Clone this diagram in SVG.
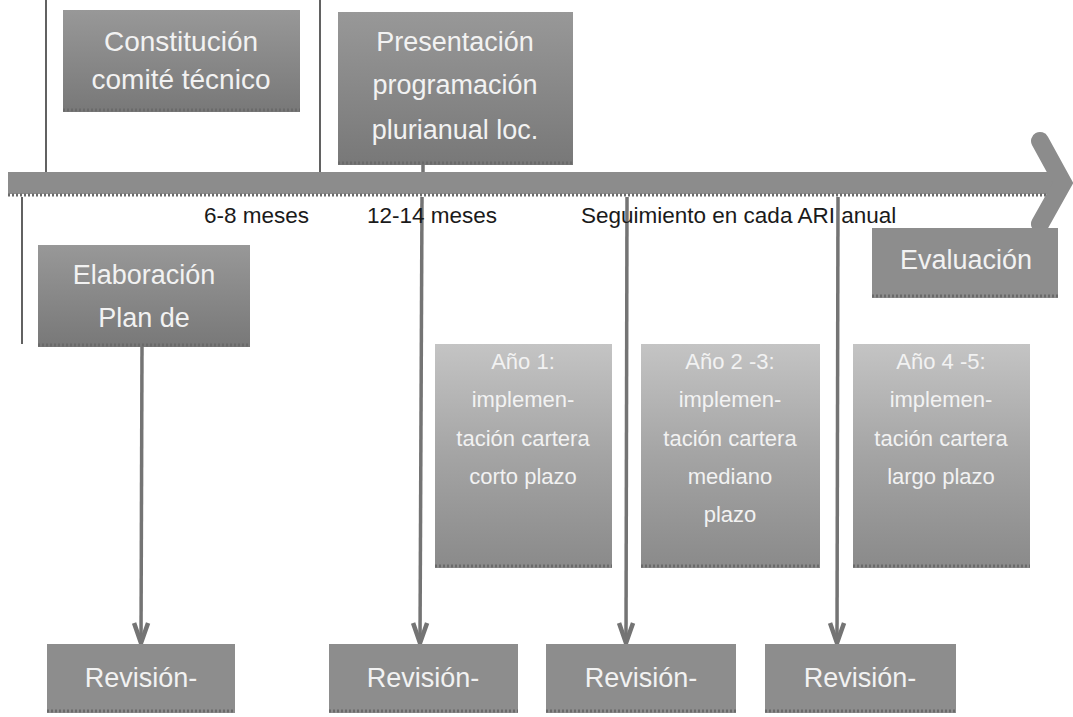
<svg xmlns="http://www.w3.org/2000/svg" width="1073" height="717" viewBox="0 0 1073 717">
<style>
  .t { font-family: "Liberation Sans", Arial, sans-serif; text-anchor: middle; fill: #f2f2f2; }
  .lbl { font-family: "Liberation Sans", Arial, sans-serif; font-size: 22.5px; fill: #1a1a1a; }
  .box { fill: url(#gDark); }
  .boxL { fill: url(#gLight); }
  .boxF { fill: #8d8d8d; }
  .edge { stroke: #6a6a6a; stroke-width: 3; stroke-dasharray: 2 2; fill: none; }
  .thin { stroke: #3a3a3a; stroke-width: 1.6; fill: none; }
  .conn { stroke: #747474; stroke-width: 3.5; fill: none; }
</style>
<defs>
  <linearGradient id="gDark" x1="0" y1="0" x2="0" y2="1">
    <stop offset="0" stop-color="#989898"/>
    <stop offset="1" stop-color="#787878"/>
  </linearGradient>
  <linearGradient id="gLight" x1="0" y1="0" x2="0" y2="1">
    <stop offset="0" stop-color="#c4c4c4"/>
    <stop offset="0.5" stop-color="#a4a4a4"/>
    <stop offset="1" stop-color="#8a8a8a"/>
  </linearGradient>
  <marker id="arr" viewBox="0 0 26 20" refX="23" refY="10" markerWidth="26" markerHeight="20" markerUnits="userSpaceOnUse" orient="auto">
    <path d="M3,3 L23,10 L3,17" fill="none" stroke="#747474" stroke-width="4.5" stroke-linejoin="miter"/>
  </marker>
</defs>

<g id="timeline">
  <rect x="8" y="172" width="1052" height="22" fill="#8c8c8c"/>
  <line x1="8" y1="195" x2="1056" y2="195" class="edge"/>
  <polyline points="1040,141 1063,183 1040,224" fill="none" stroke="#8c8c8c" stroke-width="18" stroke-linecap="round" stroke-linejoin="miter"/>
</g>

<g id="connectors">
  <line x1="46" y1="0" x2="46" y2="172" class="thin"/>
  <line x1="320" y1="0" x2="320" y2="172" class="thin"/>
  <line x1="22" y1="197" x2="22" y2="344" class="thin"/>
  <line x1="423" y1="165" x2="423" y2="172" class="conn"/>
  <line x1="422" y1="197" x2="420" y2="643" class="conn" marker-end="url(#arr)"/>
  <line x1="142" y1="347" x2="141" y2="643" class="conn" marker-end="url(#arr)"/>
  <line x1="627" y1="197" x2="626" y2="643" class="conn" marker-end="url(#arr)"/>
  <line x1="838" y1="197" x2="837" y2="643" class="conn" marker-end="url(#arr)"/>
</g>

<g id="labels">
  <text class="lbl" x="204" y="223">6-8 meses</text>
  <text class="lbl" x="367" y="223">12-14 meses</text>
  <text class="lbl" x="581" y="223">Seguimiento en cada ARI anual</text>
</g>

<g id="constitucion">
  <rect x="63" y="10" width="237" height="102" class="box"/>
  <line x1="63" y1="110" x2="300" y2="110" class="edge"/>
  <text class="t" font-size="28" x="181" y="51">Constitución</text>
  <text class="t" font-size="28" x="181" y="89">comité técnico</text>
</g>

<g id="presentacion">
  <rect x="338" y="12" width="235" height="153" class="box"/>
  <line x1="338" y1="163" x2="573" y2="163" class="edge"/>
  <text class="t" font-size="27" x="455" y="51">Presentación</text>
  <text class="t" font-size="27" x="455" y="94">programación</text>
  <text class="t" font-size="27" x="455" y="139">plurianual loc.</text>
</g>

<g id="elaboracion">
  <rect x="38" y="245" width="212" height="102" class="box"/>
  <line x1="38" y1="345" x2="250" y2="345" class="edge"/>
  <text class="t" font-size="27" x="144" y="284">Elaboración</text>
  <text class="t" font-size="27" x="144" y="327">Plan de</text>
</g>

<g id="evaluacion">
  <rect x="872" y="228" width="186" height="70" class="boxF"/>
  <line x1="872" y1="296" x2="1058" y2="296" class="edge"/>
  <text class="t" font-size="27" x="966" y="269">Evaluación</text>
</g>

<g id="anio1">
  <rect x="435" y="344" width="177" height="224" class="boxL"/>
  <line x1="435" y1="566" x2="612" y2="566" class="edge"/>
  <text class="t" font-size="22" x="523" y="369">Año 1:</text>
  <text class="t" font-size="22" x="523" y="407">implemen-</text>
  <text class="t" font-size="22" x="523" y="446">tación cartera</text>
  <text class="t" font-size="22" x="523" y="484">corto plazo</text>
</g>

<g id="anio23">
  <rect x="641" y="344" width="179" height="224" class="boxL"/>
  <line x1="641" y1="566" x2="820" y2="566" class="edge"/>
  <text class="t" font-size="22" x="730" y="369">Año 2 -3:</text>
  <text class="t" font-size="22" x="730" y="407">implemen-</text>
  <text class="t" font-size="22" x="730" y="446">tación cartera</text>
  <text class="t" font-size="22" x="730" y="484">mediano</text>
  <text class="t" font-size="22" x="730" y="522">plazo</text>
</g>

<g id="anio45">
  <rect x="853" y="344" width="177" height="224" class="boxL"/>
  <line x1="853" y1="566" x2="1030" y2="566" class="edge"/>
  <text class="t" font-size="22" x="941" y="369">Año 4 -5:</text>
  <text class="t" font-size="22" x="941" y="407">implemen-</text>
  <text class="t" font-size="22" x="941" y="446">tación cartera</text>
  <text class="t" font-size="22" x="941" y="484">largo plazo</text>
</g>

<g id="revision1">
  <rect x="47" y="644" width="188" height="69" class="boxF"/>
  <line x1="47" y1="711" x2="235" y2="711" class="edge"/>
  <text class="t" font-size="27" x="141" y="687">Revisión-</text>
</g>
<g id="revision2">
  <rect x="329" y="644" width="189" height="69" class="boxF"/>
  <line x1="329" y1="711" x2="518" y2="711" class="edge"/>
  <text class="t" font-size="27" x="423" y="687">Revisión-</text>
</g>
<g id="revision3">
  <rect x="546" y="644" width="190" height="69" class="boxF"/>
  <line x1="546" y1="711" x2="736" y2="711" class="edge"/>
  <text class="t" font-size="27" x="641" y="687">Revisión-</text>
</g>
<g id="revision4">
  <rect x="765" y="644" width="191" height="69" class="boxF"/>
  <line x1="765" y1="711" x2="956" y2="711" class="edge"/>
  <text class="t" font-size="27" x="860" y="687">Revisión-</text>
</g>
</svg>
